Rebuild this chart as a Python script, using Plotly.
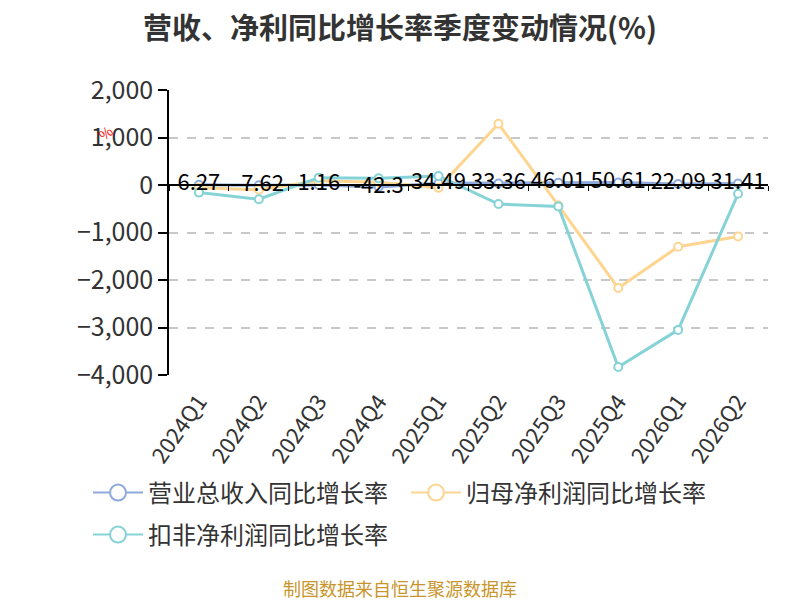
import plotly.graph_objects as go

quarters = ['2024Q1', '2024Q2', '2024Q3', '2024Q4', '2025Q1',
            '2025Q2', '2025Q3', '2025Q4', '2026Q1', '2026Q2']
revenue_yoy = [6.27, -7.62, 1.16, -42.3, 34.49, 33.36, 46.01, 50.61, 22.09, 31.41]
revenue_labels = ['6.27', '-7.62', '1.16', '-42.3', '34.49', '33.36', '46.01', '50.61', '22.09', '31.41']
netprofit_yoy = [-60, -100, 90, 60, -60, 1290, -430, -2170, -1300, -1085]
deducted_yoy = [-160, -300, 155, 140, 190, -400, -450, -3830, -3050, -185]

names = ['营业总收入同比增长率', '归母净利润同比增长率', '扣非净利润同比增长率']
colors = ['#8eaadc', '#fdd591', '#86d3d7']
legend_ids = ['legend', 'legend', 'legend2']
font = 'Noto Sans CJK SC'

fig = go.Figure()
for name, vals, c, lg in zip(names, [revenue_yoy, netprofit_yoy, deducted_yoy], colors, legend_ids):
    fig.add_trace(go.Scatter(x=quarters, y=vals, mode='lines+markers', name=name,
                             line=dict(color=c, width=3),
                             marker=dict(symbol='circle', size=8, color='white',
                                         line=dict(color=c, width=2)),
                             showlegend=False, hoverinfo='skip'))
    # legend-only entry with the big hollow circle
    fig.add_trace(go.Scatter(x=[None], y=[None], mode='lines+markers', name=name, legend=lg,
                             line=dict(color=c, width=2),
                             marker=dict(symbol='circle', size=16, color='white',
                                         line=dict(color=c, width=2))))

# labels of the revenue series on top of everything
fig.add_trace(go.Scatter(x=quarters, y=revenue_yoy, mode='text', text=revenue_labels,
                         textposition='middle center',
                         textfont=dict(family=font, size=22, color='#000000'),
                         showlegend=False, hoverinfo='skip'))

# helper for the axis line drawn at zero
fig.add_trace(go.Scatter(x=[-0.5, 9.5], y=[0, 0], xaxis='x2', mode='lines',
                         line=dict(color='rgba(0,0,0,0)'), showlegend=False, hoverinfo='skip'))

y_min, y_max = -4000, 2000
W, H = 792, 592  # page body adds an 8px margin
left, right, top, bottom = 161, 32, 82, 225
plot_w, plot_h = W - left - right, H - top - bottom
zero_pos = (0 - y_min) / (y_max - y_min)
center_x = (392 - left) / plot_w

legend_style = dict(orientation='h', xanchor='left', yanchor='middle',
                    font=dict(size=24, color='#333333'), itemwidth=50,
                    entrywidth=253, entrywidthmode='pixels', bgcolor='rgba(0,0,0,0)')

fig.update_layout(
    width=W, height=H,
    margin=dict(l=left, r=right, t=top, b=bottom, autoexpand=False),
    paper_bgcolor='white', plot_bgcolor='white',
    font=dict(family=font, color='#333333'),
    title=dict(text='<b>营收、净利同比增长率季度变动情况(%)</b>', x=392 / W, xanchor='center',
               y=1 - 21 / H, yanchor='middle', font=dict(size=29, color='#333333')),
    xaxis=dict(type='category', categoryorder='array', categoryarray=quarters,
               range=[-0.5, 9.5], showgrid=False, showline=False, zeroline=False,
               automargin=False,
               ticks='outside', ticklen=4, tickcolor='rgba(0,0,0,0)',
               tickangle=-55, tickfont=dict(size=22, color='#333333')),
    xaxis2=dict(overlaying='x', anchor='free', position=zero_pos, range=[-0.5, 9.5],
                showgrid=False, zeroline=False, showline=True, linecolor='#000000', linewidth=1.5,
                tickmode='array', tickvals=[i - 0.5 for i in range(len(quarters) + 1)],
                ticks='outside', ticklen=5, tickcolor='#000000', tickwidth=1,
                showticklabels=False),
    yaxis=dict(range=[y_min, y_max], dtick=1000, tickformat=',', automargin=False,
               showgrid=True, gridcolor='#c8c8c8', griddash='dash', gridwidth=1.5,
               zeroline=False, showline=True, linecolor='#000000', linewidth=1.5,
               ticks='outside', ticklen=9, tickcolor='#000000', tickwidth=1.5,
               tickfont=dict(size=25, color='#333333')),
    legend=dict(legend_style, x=(80 - left) / plot_w, y=-(485 - 367) / plot_h),
    legend2=dict(legend_style, x=(80 - left) / plot_w, y=-(527 - 367) / plot_h),
    showlegend=True,
)

fig.add_annotation(text='%', xref='paper', yref='paper', x=0, y=1, xshift=-64, yshift=-43,
                   xanchor='center', yanchor='middle',
                   showarrow=False, textangle=-40, font=dict(size=14, color='#ff0000'))
fig.add_annotation(text='制图数据来自恒生聚源数据库', xref='paper', yref='paper',
                   x=center_x, y=0, xanchor='center', yanchor='middle', yshift=-213,
                   showarrow=False, font=dict(size=18, color='#c8952c'))

fig.write_html('out.html')
